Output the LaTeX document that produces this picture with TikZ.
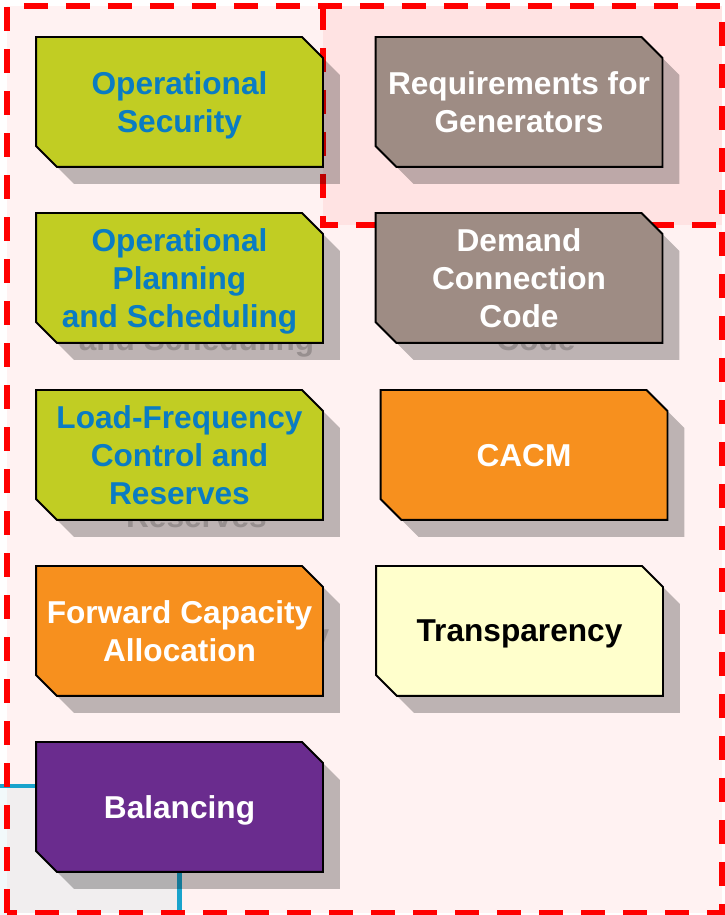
\documentclass[tikz,border=0pt]{standalone}
\usepackage{fontspec}
\newfontfamily\tilefont{Liberation Sans}
\usepackage{xcolor}
\usepackage{tikz}
\usetikzlibrary{shadows,positioning}

\definecolor{codegreen}{HTML}{C1CD23}
\definecolor{codebrown}{HTML}{9E8C84}
\definecolor{codeorange}{HTML}{F7901E}
\definecolor{codeyellow}{HTML}{FFFFCC}
\definecolor{codepurple}{HTML}{6A2C8E}
\definecolor{codeblue}{HTML}{0A7CC3}
\definecolor{grouppink}{HTML}{FFF2F2}
\definecolor{grouprose}{HTML}{FFE3E3}
\definecolor{groupred}{HTML}{FF0000}
\definecolor{linkblue}{HTML}{1AA3CC}
\definecolor{areagray}{HTML}{F1EEEF}
\definecolor{areablue}{HTML}{F2F9FB}

% rectangle with the north east and south west corners cut off
\makeatletter
\pgfdeclareshape{cut corner box}{%
  \inheritsavedanchors[from=rectangle]%
  \inheritanchorborder[from=rectangle]%
  \inheritanchor[from=rectangle]{center}%
  \inheritanchor[from=rectangle]{north}%
  \inheritanchor[from=rectangle]{south}%
  \inheritanchor[from=rectangle]{west}%
  \inheritanchor[from=rectangle]{east}%
  \backgroundpath{%
    \southwest \edef\cutxa{\the\pgf@x}\edef\cutya{\the\pgf@y}%
    \northeast \edef\cutxb{\the\pgf@x}\edef\cutyb{\the\pgf@y}%
    \pgfpathmoveto{\pgfpoint{\cutxa}{\cutyb}}%
    \pgfpathlineto{\pgfpoint{\cutxb-0.42cm}{\cutyb}}%
    \pgfpathlineto{\pgfpoint{\cutxb}{\cutyb-0.42cm}}%
    \pgfpathlineto{\pgfpoint{\cutxb}{\cutya}}%
    \pgfpathlineto{\pgfpoint{\cutxa+0.42cm}{\cutya}}%
    \pgfpathlineto{\pgfpoint{\cutxa}{\cutya+0.42cm}}%
    \pgfpathclose
  }%
}
\makeatother

\begin{document}
\begin{tikzpicture}[
    tile/.style={cut corner box, minimum width=5.7cm, minimum height=2.56cm, inner sep=0pt,
        draw=black, line width=1.1pt, align=center, text depth=0pt,
        font=\tilefont\bfseries\fontsize{18}{21.6}\selectfont,
        drop shadow={shadow xshift=0.34cm, shadow yshift=-0.34cm, fill=black, opacity=0.26}},
    ghost/.style={inner sep=0pt, align=center, text=black, text opacity=0.2, text depth=0pt,
        font=\tilefont\bfseries\fontsize{18}{21.6}\selectfont},
    group/.style={draw=groupred, line width=3.4pt, dash pattern=on 0.48cm off 0.36cm},
    link/.style={draw=linkblue, line width=2.8pt}
]
    \useasboundingbox[fill=white] (0,0) rectangle (14.5,18.3);

    % Group backgrounds
    \fill[grouppink] (0.14,0.04) rectangle (14.44,18.18);
    \fill[grouprose] (6.46,13.8) rectangle (14.44,18.18);
    \fill[areagray] (0.14,0.04) rectangle (3.59,2.58);
    \fill[areablue] (0,0) rectangle (0.14,2.58);

    % Link ends
    \coordinate (feed) at (0,2.58);
    \coordinate (drop) at (3.59,0);
    \coordinate (bal-c) at (3.59,2.16);
    \draw[link] (feed) -- (feed -| 0.74,0);
    \draw[link] (bal-c) -- (drop);

    % Text showing through the shadows
    \node[ghost] (opplan-ghost) at (3.93, 12.28) {Operational\\Planning\\and Scheduling};
    \node[ghost] (lfc-ghost) at (3.93, 8.74) {Load-Frequency\\Control and\\Reserves};
    \node[ghost] (fca-ghost) at (3.93, 5.22) {Forward Capacity\\Allocation};
    \node[ghost] (dcc-ghost) at (10.72, 12.28) {Demand\\Connection\\Code};

    % Group frames
    \draw[group] (0.14,0.04) rectangle (14.44,18.18);
    \draw[group] (6.46,18.18) -- (6.46,13.8) -- (14.44,13.8);

    % Network codes
    \node[tile, fill=codegreen, text=codeblue] (opsec) at (3.59, 16.26) {Operational\\Security};
    \node[tile, fill=codegreen, text=codeblue] (opplan) at (3.59, 12.74) {Operational\\Planning\\and Scheduling};
    \node[tile, fill=codegreen, text=codeblue] (lfc) at (3.59, 9.20) {Load-Frequency\\Control and\\Reserves};
    \node[tile, fill=codeorange, text=white] (fca) at (3.59, 5.68) {Forward Capacity\\Allocation};
    \node[tile, fill=codepurple, text=white] (balancing) at (bal-c) {Balancing};

    \node[tile, fill=codebrown, text=white] (rfg) at (10.38, 16.26) {Requirements for\\Generators};
    \node[tile, fill=codebrown, text=white] (dcc) at (10.38, 12.74) {Demand\\Connection\\Code};
    \node[tile, fill=codeorange, text=white] (cacm) at (10.48, 9.20) {CACM};
    \node[tile, fill=codeyellow, text=black] (transp) at (10.39, 5.68) {Transparency};
\end{tikzpicture}
\end{document}
